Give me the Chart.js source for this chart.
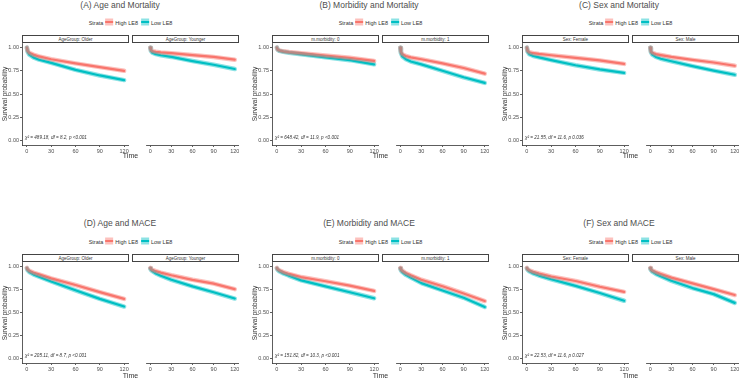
<!DOCTYPE html>
<html>
<head>
<meta charset="utf-8">
<script src="https://cdn.jsdelivr.net/npm/chart.js@4.4.1/dist/chart.umd.min.js"></script>
<style>
  body { margin: 0; background: #fff; }
  #fig { position: relative; width: 740px; height: 379px; overflow: hidden; font-family: "Liberation Sans", Arial, sans-serif; color: #333; }
  #fig canvas, #fig div { position: absolute; }
  .ptitle { font-size: 8.5px; color: #4d4d4d; white-space: nowrap; transform: translate(-50%, -50%); }
  .legend { font-size: 5.5px; color: #333; white-space: nowrap; transform: translate(-50%, -50%); display: flex; align-items: center; }
  .legend span { display: inline-block; }
  .key { width: 8px; height: 7px; margin: 0 2px 0 2px; }
  .strip { box-sizing: border-box; border: 0.8px solid #444; background: #fff; font-size: 4.5px; text-align: center; line-height: 7.5px; white-space: nowrap; }
  .ytitle { font-size: 6.5px; white-space: nowrap; transform: translate(-50%, -50%) rotate(-90deg); }
  .xtitle { font-size: 7px; white-space: nowrap; transform: translate(-50%, -50%); }
  .stat { font-size: 4.6px; font-style: italic; white-space: nowrap; transform: translateY(-50%); }
</style>
</head>
<body>
<div id="fig"></div>
<script>
// valores (curvas de supervivencia KM)
const timePoints = [0, 1, 3, 8, 15, 30, 60, 90, 120];
const xTicks = [0, 30, 60, 90, 120];
const yTicks = [0, 0.25, 0.5, 0.75, 1];
const strataNames = ["High LE8", "Low LE8"];

const panelTitles = ["(A) Age and Mortality", "(B) Morbidity and Mortality", "(C) Sex and Mortality",
                     "(D) Age and MACE", "(E) Morbidity and MACE", "(F) Sex and MACE"];
const ageStrips = ["AgeGroup: Older", "AgeGroup: Younger"];
const morbStrips = ["m.morbidity: 0", "m.morbidity: 1"];
const sexStrips = ["Sex: Female", "Sex: Male"];
const testLabels = ["χ² = 489.18, df = 8.2, p <0.001", "χ² = 648.42, df = 11.9, p <0.001", "χ² = 21.55, df = 11.6, p 0.036",
                    "χ² = 205.11, df = 8.7, p <0.001", "χ² = 151.82, df = 10.3, p <0.001", "χ² = 22.53, df = 11.6, p 0.027"];

// (A) mortalidad por edad
const mortOlderHigh = [1.00, 0.965, 0.945, 0.925, 0.905, 0.875, 0.83, 0.79, 0.75];
const mortOlderLow = [1.00, 0.955, 0.925, 0.895, 0.87, 0.835, 0.76, 0.70, 0.65];
const mortYoungerHigh = [1.00, 0.975, 0.962, 0.955, 0.948, 0.94, 0.92, 0.90, 0.87];
const mortYoungerLow = [1.00, 0.965, 0.945, 0.93, 0.918, 0.90, 0.855, 0.815, 0.77];
// (B) mortalidad por morbilidad
const mortMorb0High = [1.00, 0.98, 0.97, 0.96, 0.952, 0.94, 0.915, 0.89, 0.857];
const mortMorb0Low = [1.00, 0.978, 0.965, 0.955, 0.945, 0.928, 0.895, 0.865, 0.82];
const mortMorb1High = [1.00, 0.955, 0.93, 0.91, 0.895, 0.875, 0.83, 0.78, 0.72];
const mortMorb1Low = [1.00, 0.94, 0.905, 0.875, 0.85, 0.82, 0.75, 0.68, 0.62];
// (C) mortalidad por sexo
const mortFemaleHigh = [1.00, 0.965, 0.95, 0.94, 0.932, 0.918, 0.89, 0.862, 0.825];
const mortFemaleLow = [1.00, 0.955, 0.93, 0.91, 0.895, 0.865, 0.81, 0.765, 0.728];
const mortMaleHigh = [1.00, 0.96, 0.945, 0.93, 0.92, 0.90, 0.868, 0.84, 0.805];
const mortMaleLow = [1.00, 0.95, 0.925, 0.90, 0.88, 0.853, 0.80, 0.752, 0.708];
// (D) MACE por edad
const maceOlderHigh = [0.985, 0.97, 0.955, 0.935, 0.915, 0.872, 0.80, 0.722, 0.648];
const maceOlderLow = [0.98, 0.96, 0.94, 0.915, 0.89, 0.838, 0.742, 0.648, 0.565];
const maceYoungerHigh = [0.985, 0.975, 0.965, 0.95, 0.935, 0.906, 0.856, 0.815, 0.755];
const maceYoungerLow = [0.98, 0.965, 0.95, 0.925, 0.90, 0.856, 0.784, 0.72, 0.652];
// (E) MACE por morbilidad
const maceMorb0High = [0.985, 0.972, 0.96, 0.94, 0.92, 0.886, 0.84, 0.793, 0.735];
const maceMorb0Low = [0.98, 0.965, 0.948, 0.925, 0.90, 0.85, 0.785, 0.72, 0.655];
const maceMorb1High = [0.985, 0.97, 0.955, 0.93, 0.905, 0.857, 0.786, 0.707, 0.625];
const maceMorb1Low = [0.98, 0.96, 0.94, 0.91, 0.88, 0.82, 0.74, 0.66, 0.56];
// (F) MACE por sexo
const maceFemaleHigh = [0.985, 0.972, 0.96, 0.942, 0.925, 0.892, 0.843, 0.78, 0.725];
const maceFemaleLow = [0.98, 0.965, 0.948, 0.925, 0.902, 0.862, 0.79, 0.712, 0.628];
const maceMaleHigh = [0.985, 0.97, 0.958, 0.94, 0.92, 0.88, 0.817, 0.755, 0.69];
const maceMaleLow = [0.98, 0.962, 0.945, 0.92, 0.895, 0.845, 0.766, 0.70, 0.605];

const panels = [
  { strips: ageStrips, curves: [[mortOlderHigh, mortOlderLow], [mortYoungerHigh, mortYoungerLow]] },
  { strips: morbStrips, curves: [[mortMorb0High, mortMorb0Low], [mortMorb1High, mortMorb1Low]] },
  { strips: sexStrips, curves: [[mortFemaleHigh, mortFemaleLow], [mortMaleHigh, mortMaleLow]] },
  { strips: ageStrips, curves: [[maceOlderHigh, maceOlderLow], [maceYoungerHigh, maceYoungerLow]] },
  { strips: morbStrips, curves: [[maceMorb0High, maceMorb0Low], [maceMorb1High, maceMorb1Low]] },
  { strips: sexStrips, curves: [[maceFemaleHigh, maceFemaleLow], [maceMaleHigh, maceMaleLow]] }
];

const red = '#F8766D', teal = '#00BFC4';
const redBand = 'rgba(248,118,109,0.45)', tealBand = 'rgba(0,191,196,0.45)';
const fontFam = '"Liberation Sans", Arial, sans-serif';

// posiciones
const colLeft = [22, 272, 522];
const titleX = [120, 369, 619];
const rowPlotTop = [43, 262];
const rowPlotH = [102, 101];
const rowTitleY = [5, 223];
const rowLegendY = [22, 241];
const rowTimeY = [155, 375];
const facetW = 107, facetGap = 3;
const YW = 14, XH = 10;

const fig = document.getElementById('fig');

function addDiv(cls, html, x, y, extra) {
  const d = document.createElement('div');
  d.className = cls;
  d.innerHTML = html;
  d.style.left = x + 'px';
  d.style.top = y + 'px';
  if (extra) Object.assign(d.style, extra);
  fig.appendChild(d);
  return d;
}

function pts(vals) {
  return timePoints.map((t, i) => ({ x: t, y: vals[i] }));
}

function makeFacet(x, y, h, showY, high, low) {
  const c = document.createElement('canvas');
  const w = facetW + (showY ? YW : 0);
  c.width = w;
  c.height = h + XH;
  c.style.left = (x - (showY ? YW : 0)) + 'px';
  c.style.top = y + 'px';
  fig.appendChild(c);

  new Chart(c, {
    type: 'line',
    data: {
      datasets: [
        { data: pts(high), borderColor: redBand, borderWidth: 4.5 },
        { data: pts(low), borderColor: tealBand, borderWidth: 4.5 },
        { data: pts(high), borderColor: red, borderWidth: 2.2 },
        { data: pts(low), borderColor: teal, borderWidth: 2.2 }
      ]
    },
    options: {
      responsive: false,
      animation: false,
      devicePixelRatio: 1,
      layout: { padding: 0 },
      plugins: { legend: { display: false }, tooltip: { enabled: false } },
      elements: { point: { radius: 0 }, line: { tension: 0, borderJoinStyle: 'round', borderCapStyle: 'round' } },
      scales: {
        x: {
          type: 'linear', min: -6, max: 126,
          afterBuildTicks: s => { s.ticks = xTicks.map(v => ({ value: v })); },
          afterFit: s => { s.height = XH; s.paddingLeft = 0; s.paddingRight = 0; },
          grid: { drawOnChartArea: false, tickLength: 2, color: '#333', lineWidth: 0.8 },
          border: { color: '#333', width: 0.8 },
          ticks: { padding: 1, maxRotation: 0, autoSkip: false, color: '#4d4d4d', font: { size: 5.5, family: fontFam } }
        },
        y: {
          type: 'linear', min: -0.05, max: 1.05, display: showY,
          afterBuildTicks: s => { s.ticks = yTicks.map(v => ({ value: v })); },
          afterFit: s => { s.width = YW; s.paddingTop = 0; s.paddingBottom = 0; },
          grid: { drawOnChartArea: false, tickLength: 2, color: '#333', lineWidth: 0.8 },
          border: { color: '#333', width: 0.8 },
          ticks: { padding: 1, color: '#4d4d4d', font: { size: 5.5, family: fontFam }, callback: v => v.toFixed(2) }
        }
      }
    }
  });
}

function keyStyle(line, band) {
  return 'background: linear-gradient(to bottom, transparent 40%, ' + line + ' 40%, ' + line + ' 62%, transparent 62%), ' + band + ';';
}

panels.forEach((p, i) => {
  const row = Math.floor(i / 3), col = i % 3;
  const L = colLeft[col];
  const T = rowPlotTop[row], H = rowPlotH[row];
  const midX = L + (2 * facetW + facetGap) / 2;

  addDiv('ptitle', panelTitles[i], titleX[col], rowTitleY[row]);

  addDiv('legend',
    '<span>Strata</span>' +
    '<span class="key" style="' + keyStyle(red, redBand) + '"></span><span>' + strataNames[0] + '</span>' +
    '<span class="key" style="margin-left:3px;' + keyStyle(teal, tealBand) + '"></span><span>' + strataNames[1] + '</span>',
    midX, rowLegendY[row]);

  for (let f = 0; f < 2; f++) {
    const fx = L + f * (facetW + facetGap);
    addDiv('strip', p.strips[f], fx, T - 8.5, { width: facetW + 'px', height: '8.5px' });
    makeFacet(fx, T, H, f === 0, p.curves[f][0], p.curves[f][1]);
  }

  addDiv('stat', testLabels[i], L + 3, T + H * (1.05 - 0.035) / 1.1);
  addDiv('ytitle', 'Survival probability', L - 18, T + H / 2);
  addDiv('xtitle', 'Time', midX, rowTimeY[row]);
});
</script>
</body>
</html>
